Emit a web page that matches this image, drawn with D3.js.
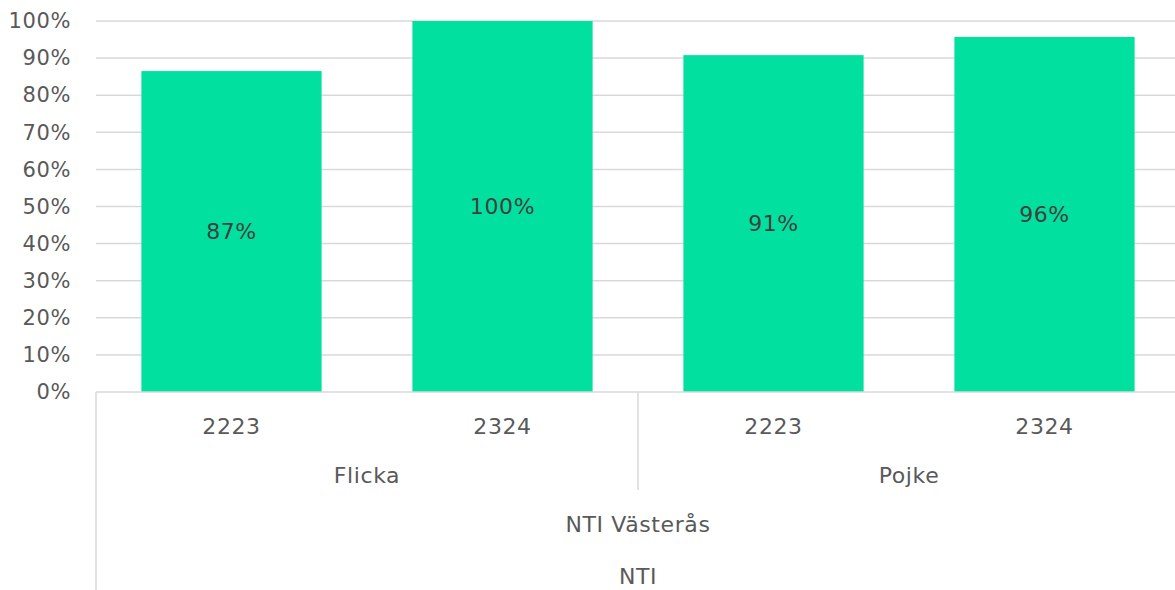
<!DOCTYPE html>
<html>
<head>
<meta charset="utf-8">
<script src="https://cdn.jsdelivr.net/npm/d3@7"></script>
<style>
  body { margin: 0; background: #fff; }
  text { font-family: "DejaVu Sans", sans-serif; letter-spacing: 0.6px; }
</style>
</head>
<body>
<script>
// data
const years = ["2223", "2324", "2223", "2324"];
const genders = ["Flicka", "Pojke"];
const values = [0.865, 1.0, 0.908, 0.957];
const labels = ["87%", "100%", "91%", "96%"];
const yTicks = [0, 0.1, 0.2, 0.3, 0.4, 0.5, 0.6, 0.7, 0.8, 0.9, 1.0];
const school = "NTI Västerås";
const org = "NTI";

const w = 1175, h = 590,
      plotL = 96, plotR = 1180,
      plotT = 21, plotB = 392,
      fontSize = "22px";

const svg = d3.select("body").append("svg")
  .attr("width", w)
  .attr("height", h);

const idx = d3.range(values.length);

const xScale = d3.scaleBand()
  .domain(idx)
  .range([plotL, plotR])
  .paddingInner(0.335)
  .paddingOuter(0.1675);

const yScale = d3.scaleLinear()
  .domain([0, 1])
  .range([plotB, plotT]);

// gridlines
svg.append("g")
  .selectAll("line")
  .data(yTicks.filter(d => d > 0))
  .enter()
  .append("line")
  .attr("x1", plotL)
  .attr("x2", w)
  .attr("y1", d => yScale(d))
  .attr("y2", d => yScale(d))
  .attr("stroke", "#d9d9d9")
  .attr("stroke-width", 1.5);

// y axis labels
const yAxis = d3.axisLeft(yScale)
  .tickValues(yTicks)
  .tickFormat(d3.format(".0%"))
  .tickSize(0)
  .tickPadding(25);

const yG = svg.append("g")
  .attr("transform", "translate(" + plotL + ",0)")
  .call(yAxis);
yG.select(".domain").remove();
yG.selectAll("text")
  .attr("fill", "#595959")
  .style("font-family", "DejaVu Sans")
  .style("font-size", "21px");

// bars
svg.append("g")
  .selectAll("rect")
  .data(values)
  .enter()
  .append("rect")
  .attr("x", (d, i) => xScale(i))
  .attr("y", d => yScale(d))
  .attr("width", xScale.bandwidth())
  .attr("height", d => plotB - yScale(d))
  .attr("fill", "#02e09f");

// data labels
svg.append("g")
  .selectAll("text")
  .data(values)
  .enter()
  .append("text")
  .attr("x", (d, i) => xScale(i) + xScale.bandwidth() / 2)
  .attr("y", d => (yScale(d) + plotB) / 2)
  .attr("dy", "0.35em")
  .attr("text-anchor", "middle")
  .attr("fill", "#404040")
  .style("font-size", fontSize)
  .text((d, i) => labels[i]);

// x axis baseline
svg.append("line")
  .attr("x1", plotL).attr("x2", w)
  .attr("y1", plotB).attr("y2", plotB)
  .attr("stroke", "#d9d9d9")
  .attr("stroke-width", 1.5);

// multi-level category labels
const step = xScale.step();
const axisText = (x, y, t) => svg.append("text")
  .attr("x", x).attr("y", y)
  .attr("dy", "0.35em")
  .attr("text-anchor", "middle")
  .attr("fill", "#595959")
  .style("font-size", fontSize)
  .text(t);

years.forEach((y, i) => axisText(xScale(i) + xScale.bandwidth() / 2, 426, y));
genders.forEach((g, i) => axisText(plotL + step * (2 * i + 1), 475, g));
axisText(638, 524, school);
axisText(638, 576, org);

// separators
svg.append("line")
  .attr("x1", plotL).attr("x2", plotL)
  .attr("y1", plotB).attr("y2", h)
  .attr("stroke", "#d9d9d9").attr("stroke-width", 1.5);
svg.append("line")
  .attr("x1", plotL + step * 2).attr("x2", plotL + step * 2)
  .attr("y1", plotB).attr("y2", 490)
  .attr("stroke", "#d9d9d9").attr("stroke-width", 1.5);
</script>
</body>
</html>
